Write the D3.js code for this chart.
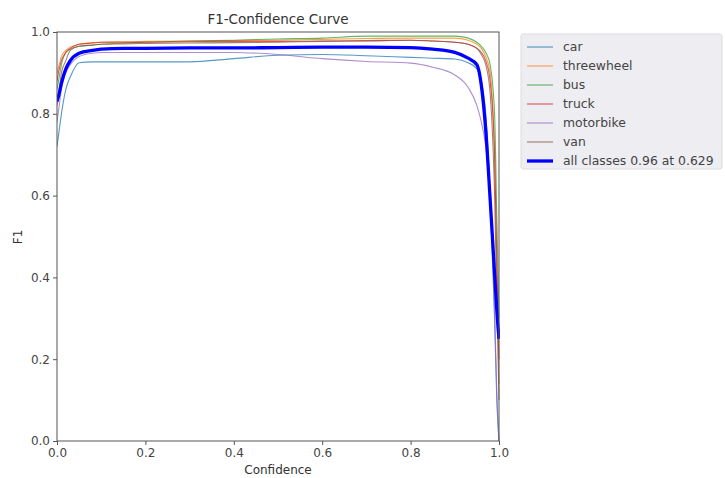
<!DOCTYPE html>
<html>
<head>
<meta charset="utf-8">
<script src="https://cdn.jsdelivr.net/npm/d3@7"></script>
<style>
  html, body { margin: 0; padding: 0; background: #fff; }
  svg { display: block; font-family: "DejaVu Sans", sans-serif; }
</style>
</head>
<body>
<svg id="chart" width="725" height="478"></svg>
<script>
// Confidence thresholds at which each F1 value is sampled
const confidence = [0, 0.005, 0.01, 0.02, 0.03, 0.05, 0.08, 0.1, 0.15, 0.2, 0.3, 0.4, 0.5, 0.6, 0.7, 0.8, 0.85, 0.9, 0.93, 0.95, 0.96, 0.97, 0.98, 0.99, 0.995, 1.0];

// Per-class F1 scores
const carF1        = [0.72, 0.76, 0.80, 0.86, 0.89, 0.925, 0.927, 0.927, 0.927, 0.927, 0.927, 0.935, 0.943, 0.945, 0.942, 0.938, 0.936, 0.934, 0.925, 0.91, 0.88, 0.80, 0.60, 0.30, 0.10, 0.0];
const threewheelF1 = [0.90, 0.92, 0.94, 0.955, 0.963, 0.97, 0.974, 0.975, 0.976, 0.977, 0.978, 0.979, 0.98, 0.982, 0.984, 0.985, 0.985, 0.985, 0.98, 0.97, 0.96, 0.94, 0.90, 0.70, 0.40, 0.14];
const busF1        = [0.86, 0.89, 0.92, 0.95, 0.958, 0.965, 0.968, 0.97, 0.973, 0.975, 0.978, 0.98, 0.983, 0.985, 0.99, 0.99, 0.99, 0.99, 0.985, 0.975, 0.965, 0.95, 0.92, 0.80, 0.55, 0.30];
const truckF1      = [0.88, 0.91, 0.93, 0.95, 0.96, 0.97, 0.973, 0.975, 0.975, 0.975, 0.976, 0.977, 0.977, 0.978, 0.979, 0.98, 0.978, 0.975, 0.97, 0.96, 0.95, 0.93, 0.88, 0.70, 0.45, 0.20];
const motorbikeF1  = [0.78, 0.82, 0.86, 0.90, 0.92, 0.94, 0.948, 0.95, 0.95, 0.95, 0.95, 0.95, 0.945, 0.935, 0.928, 0.924, 0.914, 0.895, 0.865, 0.82, 0.78, 0.72, 0.60, 0.32, 0.12, 0.0];
const vanF1        = [0.82, 0.86, 0.90, 0.93, 0.955, 0.965, 0.968, 0.97, 0.971, 0.972, 0.973, 0.974, 0.975, 0.977, 0.978, 0.98, 0.978, 0.975, 0.97, 0.96, 0.945, 0.92, 0.85, 0.60, 0.35, 0.10];
// Mean F1 over all classes
const allClassesF1 = [0.83, 0.85, 0.875, 0.91, 0.93, 0.948, 0.955, 0.958, 0.96, 0.96, 0.961, 0.961, 0.962, 0.963, 0.963, 0.962, 0.958, 0.95, 0.936, 0.92, 0.87, 0.76, 0.59, 0.41, 0.32, 0.25];

const classNames = ["car", "threewheel", "bus", "truck", "motorbike", "van"];
const classSeries = [carF1, threewheelF1, busF1, truckF1, motorbikeF1, vanF1];
const classColors = ["#1f77b4", "#ff7f0e", "#2ca02c", "#d62728", "#9467bd", "#8c564b"];
const allLabel = "all classes 0.96 at 0.629";
const xTicks = [0, 0.2, 0.4, 0.6, 0.8, 1.0];
const yTicks = [0, 0.2, 0.4, 0.6, 0.8, 1.0];

const svg = d3.select("#chart");
const plotLeft = 57, plotRight = 499, plotTop = 32, plotBottom = 441;

const x = d3.scaleLinear().domain([0, 1]).range([plotLeft, plotRight]);
const y = d3.scaleLinear().domain([0, 1]).range([plotBottom, plotTop]);

svg.append("defs").append("clipPath").attr("id", "plotClip")
  .append("rect").attr("x", plotLeft).attr("y", plotTop - 2)
  .attr("width", plotRight - plotLeft + 1).attr("height", plotBottom - plotTop + 2);

const line = d3.line()
  .x((d, i) => x(confidence[i]))
  .y(d => y(d))
  .curve(d3.curveMonotoneX);

const plot = svg.append("g").attr("clip-path", "url(#plotClip)");

classSeries.forEach((s, k) => {
  plot.append("path")
    .datum(s)
    .attr("d", line)
    .attr("fill", "none")
    .attr("stroke", classColors[k])
    .attr("stroke-width", 1.1)
    .attr("stroke-opacity", 0.75);
});

plot.append("path")
  .datum(allClassesF1)
  .attr("d", line)
  .attr("fill", "none")
  .attr("stroke", "#0000ff")
  .attr("stroke-width", 3.3)
  .attr("stroke-linejoin", "round");

// Axes
const tickFmt = d3.format(".1f");
const xAxis = svg.append("g")
  .attr("transform", `translate(0,${plotBottom})`)
  .call(d3.axisBottom(x).tickValues(xTicks).tickFormat(tickFmt).tickSize(4).tickPadding(3));
const yAxis = svg.append("g")
  .attr("transform", `translate(${plotLeft},0)`)
  .call(d3.axisLeft(y).tickValues(yTicks).tickFormat(tickFmt).tickSize(4).tickPadding(3));

[xAxis, yAxis].forEach(g => {
  g.select(".domain").remove();
  g.selectAll(".tick line").attr("stroke", "#555");
  g.selectAll(".tick text").attr("fill", "#444").style("font-size", "12px").style("font-family", "DejaVu Sans");
});

// Frame around the plot area
svg.append("rect")
  .attr("x", plotLeft).attr("y", plotTop)
  .attr("width", plotRight - plotLeft).attr("height", plotBottom - plotTop)
  .attr("fill", "none").attr("stroke", "#555").attr("stroke-width", 1);

// Titles
svg.append("text").attr("x", (plotLeft + plotRight) / 2).attr("y", 24)
  .attr("text-anchor", "middle").attr("fill", "#333")
  .style("font-size", "13.5px").text("F1-Confidence Curve");
svg.append("text").attr("x", (plotLeft + plotRight) / 2).attr("y", 474)
  .attr("text-anchor", "middle").attr("fill", "#333")
  .style("font-size", "12px").text("Confidence");
svg.append("text").attr("transform", "translate(22,237) rotate(-90)")
  .attr("text-anchor", "middle").attr("fill", "#333")
  .style("font-size", "12px").text("F1");

// Legend
const legend = svg.append("g");
legend.append("rect")
  .attr("x", 521).attr("y", 34).attr("width", 201).attr("height", 135)
  .attr("rx", 2)
  .attr("fill", "#ededf2").attr("stroke", "#dcdce2");

const legendItems = classNames.map((n, k) => ({ name: n, color: classColors[k], width: 1.1 }))
  .concat([{ name: allLabel, color: "#0000ff", width: 3.3 }]);

legendItems.forEach((it, i) => {
  const ly = 47 + i * 19;
  legend.append("line")
    .attr("x1", 527).attr("x2", 553).attr("y1", ly).attr("y2", ly)
    .attr("stroke", it.color).attr("stroke-width", it.width)
    .attr("stroke-opacity", it.width > 2 ? 1 : 0.75);
  legend.append("text")
    .attr("x", 563).attr("y", ly).attr("dy", "0.35em")
    .attr("fill", "#444").style("font-size", "12.4px")
    .text(it.name);
});
</script>
</body>
</html>
